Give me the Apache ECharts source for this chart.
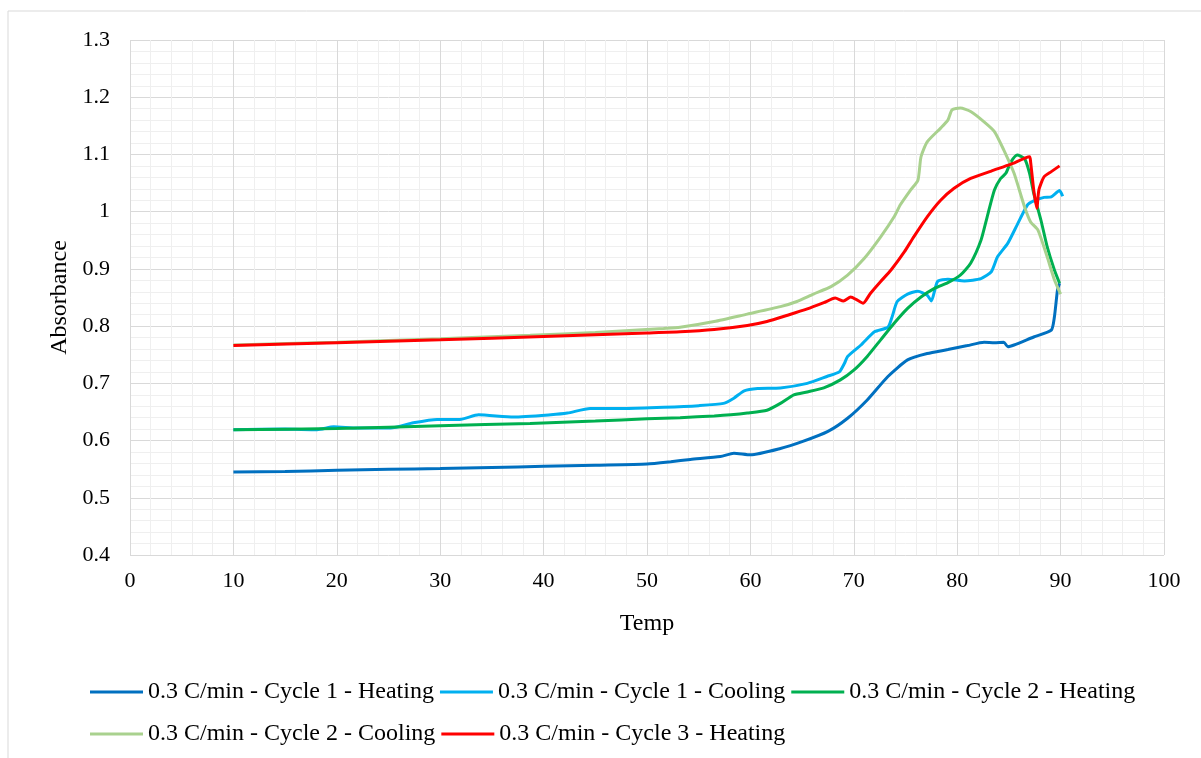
<!DOCTYPE html>
<html><head><meta charset="utf-8">
<script src="https://cdn.jsdelivr.net/npm/echarts@6/dist/echarts.min.js"></script>
<style>html,body{margin:0;padding:0;background:#fff}#c{width:1201px;height:758px}</style>
</head><body><div id="c"></div>
<script>
const seriesNames = [
  '0.3 C/min - Cycle 1 - Heating',
  '0.3 C/min - Cycle 1 - Cooling',
  '0.3 C/min - Cycle 2 - Heating',
  '0.3 C/min - Cycle 2 - Cooling',
  '0.3 C/min - Cycle 3 - Heating'
];
const seriesColors = ['#0070C0', '#00B0F0', '#00B050', '#A9D18E', '#FF0000'];

const c1HeatX = [10, 15, 20, 25, 30, 35, 40, 45, 50, 52.3, 54.2, 57.1, 58.4, 60.0, 62.9, 65, 67.5, 69.4, 71.3, 73.3, 75.2, 77.1, 79.1, 81.0, 82.6, 83.6, 84.5, 84.9, 85.5, 87.4, 89.1, 89.4, 89.7, 89.9];
const c1HeatY = [0.545, 0.546, 0.548, 0.550, 0.551, 0.553, 0.555, 0.557, 0.559, 0.563, 0.567, 0.572, 0.578, 0.575, 0.586, 0.598, 0.616, 0.639, 0.671, 0.712, 0.741, 0.752, 0.759, 0.766, 0.772, 0.771, 0.772, 0.764, 0.767, 0.781, 0.793, 0.816, 0.863, 0.875];

const c1CoolX = [10, 15, 18.1, 19.7, 22, 25.2, 27.4, 29.7, 31.9, 33.7, 37.1, 40.7, 42.3, 44.5, 48, 51.6, 55, 57.4, 58.4, 59.4, 60.7, 62.9, 65.5, 67.4, 68.6, 69.1, 69.4, 70.7, 72.0, 73.3, 73.7, 74.2, 75.2, 76.2, 77.1, 77.5, 78.1, 79.1, 80.7, 82.3, 83.3, 83.9, 84.9, 85.8, 86.8, 87.4, 88.4, 89.1, 89.9, 90.2];
const c1CoolY = [0.619, 0.620, 0.619, 0.624, 0.622, 0.622, 0.631, 0.637, 0.637, 0.645, 0.641, 0.645, 0.648, 0.656, 0.656, 0.658, 0.661, 0.665, 0.674, 0.687, 0.691, 0.692, 0.700, 0.712, 0.720, 0.735, 0.747, 0.767, 0.790, 0.798, 0.816, 0.843, 0.856, 0.861, 0.854, 0.844, 0.878, 0.882, 0.879, 0.883, 0.895, 0.921, 0.945, 0.977, 1.012, 1.019, 1.025, 1.026, 1.037, 1.027];

const c2HeatX = [10, 20, 30, 38.7, 45, 50, 53.2, 56.5, 58.1, 59.7, 61.6, 62.9, 64.2, 65.5, 67.1, 68.7, 70.0, 71.3, 72.6, 73.9, 75.2, 76.5, 77.8, 79.1, 80.3, 81.3, 82.3, 82.9, 83.6, 84.2, 84.7, 85.2, 85.8, 86.5, 87.0, 87.4, 88.1, 88.7, 89.4, 89.9];
const c2HeatY = [0.619, 0.621, 0.626, 0.630, 0.634, 0.638, 0.640, 0.643, 0.645, 0.648, 0.653, 0.665, 0.680, 0.685, 0.692, 0.706, 0.723, 0.747, 0.776, 0.805, 0.831, 0.851, 0.866, 0.876, 0.889, 0.910, 0.950, 0.991, 1.038, 1.058, 1.067, 1.087, 1.099, 1.093, 1.067, 1.032, 0.985, 0.939, 0.898, 0.875];

const c2CoolX = [10, 20, 30, 38.7, 45, 51.6, 53.2, 56.5, 59.7, 62.9, 64.5, 66.1, 67.8, 69.4, 71.0, 72.6, 73.9, 74.5, 75.5, 76.2, 76.5, 77.1, 78.4, 79.1, 79.5, 80.3, 81.3, 82.6, 83.6, 84.5, 85.5, 86.5, 87.1, 87.8, 88.7, 89.4, 90.0];
const c2CoolY = [0.767, 0.772, 0.778, 0.784, 0.789, 0.796, 0.798, 0.808, 0.821, 0.834, 0.843, 0.856, 0.869, 0.889, 0.918, 0.956, 0.991, 1.012, 1.038, 1.055, 1.096, 1.122, 1.146, 1.160, 1.178, 1.181, 1.175, 1.157, 1.140, 1.108, 1.067, 1.009, 0.982, 0.968, 0.921, 0.881, 0.856];

const c3HeatX = [10, 20, 30, 40, 50, 53.2, 56.5, 59.7, 61.6, 63.6, 65.5, 67.1, 68.2, 69.0, 69.7, 70.3, 70.9, 71.6, 72.6, 73.6, 74.9, 75.8, 77.1, 78.4, 79.7, 81.3, 83.3, 85.2, 87.0, 87.1, 87.4, 87.7, 87.9, 88.4, 89.1, 89.9];
const c3HeatY = [0.766, 0.771, 0.776, 0.782, 0.788, 0.790, 0.794, 0.801, 0.808, 0.819, 0.830, 0.841, 0.849, 0.844, 0.851, 0.846, 0.840, 0.857, 0.878, 0.898, 0.930, 0.956, 0.991, 1.020, 1.041, 1.058, 1.071, 1.083, 1.096, 1.087, 1.038, 1.006, 1.038, 1.061, 1.070, 1.080];

const xs = [c1HeatX, c1CoolX, c2HeatX, c2CoolX, c3HeatX];
const ys = [c1HeatY, c1CoolY, c2HeatY, c2CoolY, c3HeatY];

const FONT = '"Liberation Serif", "Times New Roman", serif';
const chart = echarts.init(document.getElementById('c'), null, {renderer: 'canvas'});

const series = seriesNames.map((name, i) => ({
  name: name,
  type: 'line',
  data: xs[i].map((x, k) => [x, ys[i][k]]),
  symbol: 'none',
  smooth: 0.2,
  lineStyle: {color: seriesColors[i], width: 3},
  itemStyle: {color: seriesColors[i]},
  emphasis: {disabled: true},
  animation: false
}));

const legendCommon = {
  left: 90,
  orient: 'horizontal',
  padding: 0,
  itemWidth: 53,
  itemHeight: 14,
  itemGap: 6,
  icon: 'path://M0,6 L53,6 L53,9 L0,9 Z',
  textStyle: {fontFamily: FONT, fontSize: 24, color: '#000', padding: [0, 0, 0, 0]},
  selectedMode: false
};

chart.setOption({
  animation: false,
  backgroundColor: '#fff',
  graphic: [{
    type: 'rect',
    shape: {x: 8, y: 11, width: 1400, height: 1000},
    style: {fill: 'none', stroke: '#d9d9d9', lineWidth: 1}
  }],
  grid: {left: 130, right: 37, top: 40, bottom: 203, containLabel: false},
  legend: [
    Object.assign({}, legendCommon, {top: 680, data: seriesNames.slice(0, 3)}),
    Object.assign({}, legendCommon, {top: 722, data: seriesNames.slice(3)})
  ],
  xAxis: {
    type: 'value', min: 0, max: 100, interval: 10,
    name: 'Temp', nameLocation: 'middle', nameGap: 57,
    nameTextStyle: {fontFamily: FONT, fontSize: 24, color: '#000'},
    axisLine: {show: false}, axisTick: {show: false},
    axisLabel: {fontFamily: FONT, fontSize: 22, color: '#000', margin: 15},
    splitLine: {show: true, lineStyle: {color: '#d9d9d9', width: 1}},
    minorTick: {show: false, splitNumber: 5},
    minorSplitLine: {show: true, lineStyle: {color: '#efefef', width: 1}}
  },
  yAxis: {
    type: 'value', min: 0.4, max: 1.3, interval: 0.1,
    name: 'Absorbance', nameLocation: 'middle', nameGap: 57,
    nameTextStyle: {fontFamily: FONT, fontSize: 24, color: '#000'},
    axisLine: {show: false}, axisTick: {show: false},
    axisLabel: {fontFamily: FONT, fontSize: 22, color: '#000', margin: 20,
      formatter: v => (Math.round(v * 10) / 10).toString()},
    splitLine: {show: true, lineStyle: {color: '#d9d9d9', width: 1}},
    minorTick: {show: false, splitNumber: 5},
    minorSplitLine: {show: true, lineStyle: {color: '#efefef', width: 1}}
  },
  series: series
});
</script>
</body></html>
